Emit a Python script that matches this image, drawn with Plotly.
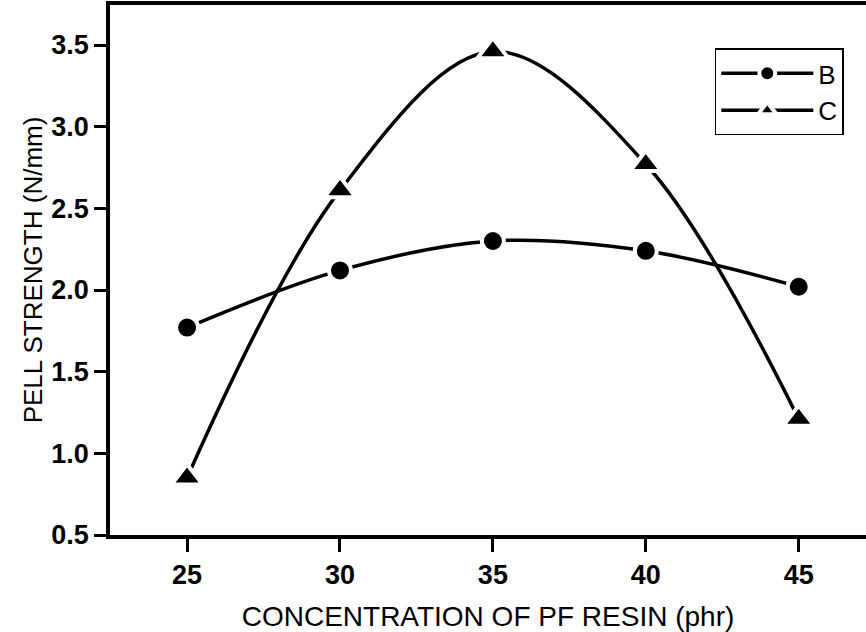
import plotly.graph_objects as go

# PF resin concentration (phr) and peel strength (N/mm) for two compounds
concentration = [25, 30, 35, 40, 45]
peel_b = [1.77, 2.12, 2.30, 2.24, 2.02]
peel_c = [0.85, 2.61, 3.46, 2.77, 1.21]

x_ticks = [25, 30, 35, 40, 45]
y_ticks = [0.5, 1.0, 1.5, 2.0, 2.5, 3.0, 3.5]

FONT = "Liberation Sans, Arial, sans-serif"

fig = go.Figure()

fig.add_trace(go.Scatter(
    x=concentration, y=peel_b, name="B",
    mode="lines+markers",
    line=dict(color="black", width=3.5, shape="spline", smoothing=1.0),
    marker=dict(symbol="circle", size=22, color="black",
                line=dict(color="white", width=4)),
))
fig.add_trace(go.Scatter(
    x=concentration, y=peel_c, name="C",
    mode="lines+markers",
    line=dict(color="black", width=3.5, shape="spline", smoothing=1.0),
    marker=dict(symbol="triangle-up", size=27, color="black",
                line=dict(color="white", width=4)),
))

fig.update_layout(
    width=866, height=632,
    margin=dict(l=110, r=0, t=5, b=97),
    paper_bgcolor="white",
    plot_bgcolor="white",
    font=dict(family=FONT, color="black"),
    showlegend=True,
    legend=dict(
        x=0.80, y=0.918, xanchor="left", yanchor="top",
        bgcolor="white", bordercolor="black", borderwidth=1.5,
        font=dict(family=FONT, size=26, color="black"),
        itemsizing="trace", tracegroupgap=0, itemwidth=92,
    ),
)

fig.update_xaxes(
    range=[22.48, 47.2],
    tickvals=x_ticks,
    ticks="outside", ticklen=13, tickwidth=3, tickcolor="black",
    showline=True, linecolor="black", linewidth=3.5, mirror=True,
    showgrid=False, zeroline=False,
    tickfont=dict(family=FONT, size=27, weight="bold"),
    title=dict(text="CONCENTRATION OF PF RESIN (phr)",
               font=dict(family=FONT, size=28), standoff=18),
)
fig.update_yaxes(
    range=[0.5, 3.745],
    tickvals=y_ticks, tickformat=".1f",
    ticks="outside", ticklen=12, tickwidth=3, tickcolor="black",
    showline=True, linecolor="black", linewidth=3.5,
    showgrid=False, zeroline=False,
    tickfont=dict(family=FONT, size=27, weight="bold"),
    title=dict(text="PELL STRENGTH (N/mm)",
               font=dict(family=FONT, size=26), standoff=2),
)

fig.write_html("out.html")
